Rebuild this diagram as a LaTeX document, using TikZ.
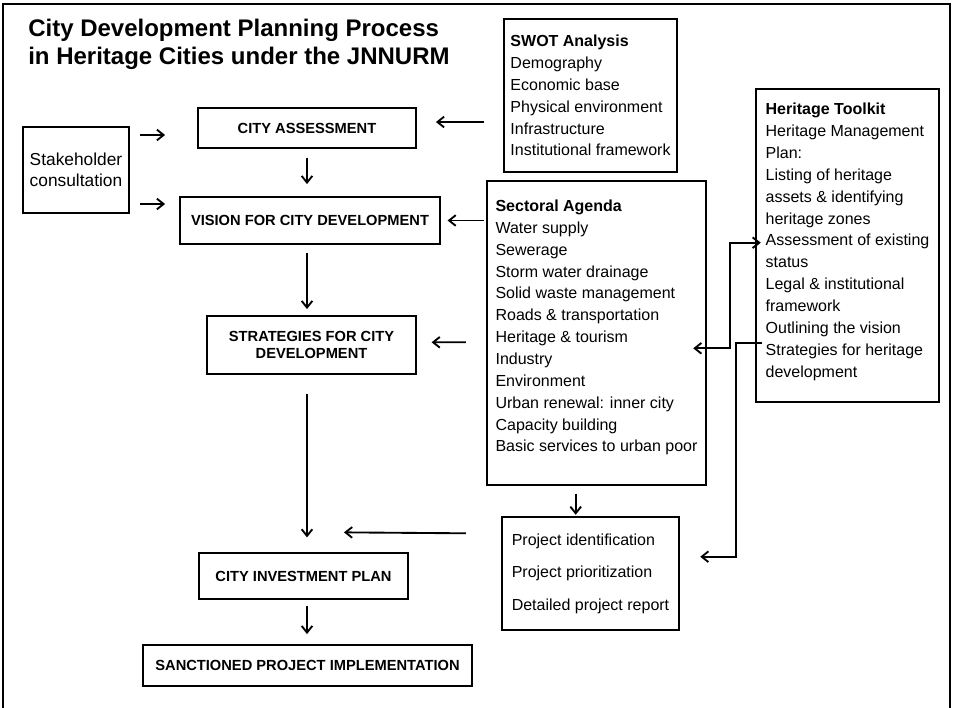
\documentclass[tikz,border=0pt]{standalone}
\usepackage{fontspec}
\setmainfont{Liberation Sans}
\usetikzlibrary{arrows.meta}

\begin{document}
\begin{tikzpicture}[x=0.75pt, y=-0.75pt,
    stage/.style={draw, line width=1.4pt, align=center, inner sep=0pt, font=\bfseries\fontsize{11}{13.2}\selectfont},
    listbox/.style={draw, line width=1.4pt, align=left, inner sep=0pt, font=\fontsize{12}{16.4}\selectfont},
    flow/.style={-{Straight Barb[length=5pt,width=8pt]}, line width=1.4pt},
    flowboth/.style={{Straight Barb[length=5pt,width=8pt]}-{Straight Barb[length=5pt,width=8pt]}, line width=1.4pt}]

    \useasboundingbox (0,0) rectangle (953,707);
    \draw[line width=1.4pt] (3,715) |- (950,4) -- (950,715);

    % Title
    \node[anchor=north west, inner sep=0pt, align=left, font=\bfseries\fontsize{18}{20.7}\selectfont] (title) at (28,19.2) {City Development Planning Process\\in Heritage Cities under the JNNURM};

    % Stages
    \node[stage, minimum width=163.5pt, minimum height=30pt] (assess) at (307,128) {CITY ASSESSMENT};
    \node[stage, minimum width=195pt, minimum height=35.25pt] (vision) at (310,220.5) {VISION FOR CITY DEVELOPMENT};
    \node[stage, minimum width=156.75pt, minimum height=43.5pt] (strat) at (311.5,345) {STRATEGIES FOR CITY\\DEVELOPMENT};
    \node[stage, minimum width=156.75pt, minimum height=34.5pt] (invest) at (303.5,576) {CITY INVESTMENT PLAN};
    \node[stage, minimum width=246.75pt, minimum height=30.75pt] (sanction) at (307.5,665.5) {SANCTIONED PROJECT IMPLEMENTATION};
    \node[listbox, align=center, font=\fontsize{13}{15.75}\selectfont, minimum width=79.5pt, minimum height=64.5pt] (stake) at (76,170) {Stakeholder\\consultation};

    % Inputs
    \node[listbox, minimum width=129.75pt, minimum height=114.75pt] (swot) at (590.5,95.5) {\textbf{SWOT Analysis}\\Demography\\Economic base\\Physical environment\\Infrastructure\\Institutional framework};
    \node[listbox, minimum width=164.25pt, minimum height=228pt, text depth=10.7pt] (agenda) at (596.5,333) {\textbf{Sectoral Agenda}\\Water supply\\Sewerage\\Storm water drainage\\Solid waste management\\Roads \& transportation\\Heritage \& tourism\\Industry\\Environment\\Urban renewal: inner city\\Capacity building\\Basic services to urban poor};
    \node[listbox, minimum width=137.25pt, minimum height=234.75pt, text depth=8pt] (toolkit) at (847.5,245.5) {\textbf{Heritage Toolkit}\\Heritage Management\\Plan:\\Listing of heritage\\assets \& identifying\\heritage zones\\Assessment of existing\\status\\Legal \& institutional\\framework\\Outlining the vision\\Strategies for heritage\\development};
    \node[listbox, font=\fontsize{12}{24.4}\selectfont, minimum width=132.75pt, minimum height=84.75pt] (project) at (590.5,573.5) {Project identification\\Project prioritization\\Detailed project report};

    % Main flow
    \draw[flow, shorten <=6.5pt, shorten >=9pt] (assess.south) -- (assess.south |- vision.north);
    \draw[flow, shorten <=5.8pt, shorten >=4.5pt] (assess.south |- vision.south) -- (assess.south |- strat.north);
    \draw[flow, shorten <=14.5pt, shorten >=11pt] (assess.south |- strat.south) -- (assess.south |- invest.north);
    \draw[flow, shorten <=4.5pt, shorten >=7.5pt] (assess.south |- invest.south) -- (assess.south |- sanction.north);

    % Side flows
    \draw[flow] ([shift={(10,-35)}]stake.east) -- ([shift={(-32,7)}]assess.west);
    \draw[flow] ([shift={(10,34)}]stake.east) -- ([shift={(-14,-16.5)}]vision.west);
    \draw[flow] ([shift={(-19,26.5)}]swot.west) -- ([shift={(19,-6)}]assess.east);
    \draw[flow, shorten <=1.5pt, shorten >=5pt] (agenda.west |- vision.east) -- (vision.east);
    \draw[flow] ([shift={(-20.3,9.3)}]agenda.west) -- ([shift={(14.7,-2.7)}]strat.east);
    \draw[flow] ([shift={(-35.3,-40.2)}]project.west) -- ([shift={(40.5,-19.7)}]invest.north);
    \draw[flow] ([shift={(-20.8,7.7)}]agenda.south) -- ([shift={(-14.8,-1.3)}]project.north);
    \draw[flowboth] ([shift={(-13.7,15.3)}]agenda.east) -- ++(37,0) |- ([shift={(5.7,-2.8)}]toolkit.west);
    \draw[flow] ([shift={(7.3,97.8)}]toolkit.west) -- ++(-26.6,0) |- ([shift={(20.3,-16.8)}]project.east);
\end{tikzpicture}
\end{document}
